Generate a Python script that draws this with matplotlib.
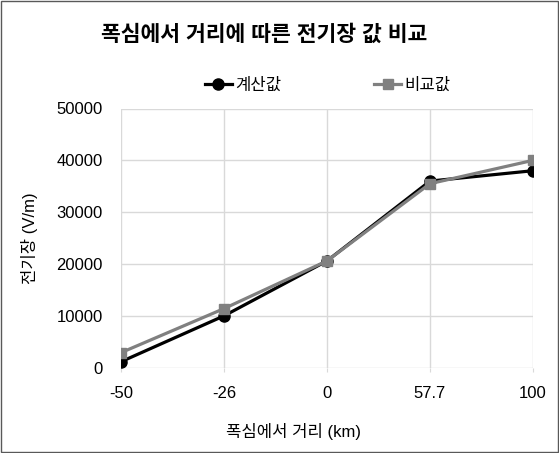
import matplotlib
matplotlib.use("Agg")
import matplotlib.pyplot as plt
from matplotlib.patches import Rectangle

plt.rcParams['font.family'] = ['Liberation Sans', 'Noto Sans CJK KR', 'DejaVu Sans']

categories = ['-50', '-26', '0', '57.7', '100']
calc_values = [1150, 10000, 20600, 36000, 38000]
compare_values = [2900, 11400, 20600, 35500, 40000]
y_ticks = [0, 10000, 20000, 30000, 40000, 50000]

W, H = 559, 453
fig = plt.figure(figsize=(W / 100, H / 100), dpi=100)
ax_l, ax_r, ax_t, ax_b = 121, 533, 108.5, 367.7
ax = fig.add_axes([ax_l / W, 1 - ax_b / H, (ax_r - ax_l) / W, (ax_b - ax_t) / H])

x = list(range(len(categories)))
ax.plot(x, calc_values, color='black', lw=2.3, marker='o', markersize=8,
        label='계산값', zorder=3)
ax.plot(x, compare_values, color='#808080', lw=2.3, marker='s', markersize=7,
        label='비교값', zorder=4)

ax.set_xlim(0, len(categories) - 1)
ax.set_ylim(0, 50000)
ax.set_xticks(x)
ax.set_xticklabels(categories, fontsize=12)
ax.set_yticks(y_ticks)
ax.set_yticklabels([str(v) for v in y_ticks], fontsize=12)
ax.tick_params(axis='y', length=0, pad=13)
ax.tick_params(axis='x', length=3, color='#d9d9d9', pad=10)
ax.grid(True, color='#d9d9d9', lw=1)
ax.set_axisbelow(True)
for s in ax.spines.values():
    s.set_visible(False)

ax.set_xlabel('폭심에서 거리 (km)', fontsize=12)
ax.xaxis.set_label_coords((294 - ax_l) / (ax_r - ax_l), (ax_b - 432) / (ax_b - ax_t))
ax.xaxis.label.set_va('center')
ax.set_ylabel('전기장 (V/m)', fontsize=12)
ax.yaxis.set_label_coords((30 - ax_l) / (ax_r - ax_l), 0.5)
ax.yaxis.label.set_va('center')

fig.text(264 / W, 1 - 35 / H, '폭심에서 거리에 따른 전기장 값 비교', ha='center', va='center',
         fontsize=15.5, fontweight='bold')

fig.legend(loc='center left', bbox_to_anchor=(205 / W, 1 - 85 / H), ncol=2, frameon=False,
           fontsize=12, handlelength=1.6, handletextpad=0.2, columnspacing=5.6,
           borderpad=0, borderaxespad=0)

fig.patches.append(Rectangle((0.002, 0.002), 0.996, 0.996, transform=fig.transFigure,
                             fill=False, edgecolor='#595959', lw=1))

fig.savefig('out.png', dpi=100, facecolor='white')
